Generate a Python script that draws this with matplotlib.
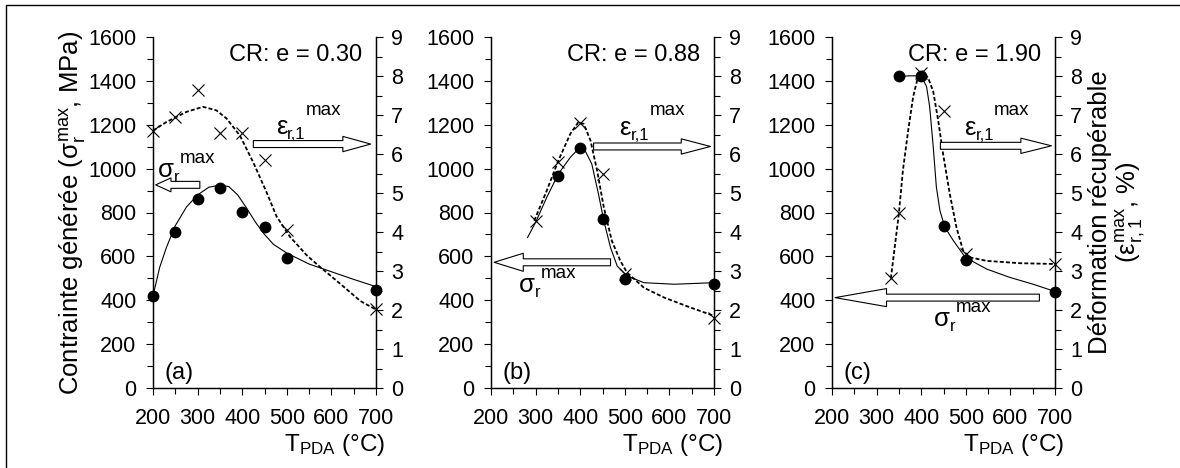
import matplotlib
matplotlib.use("Agg")
import matplotlib.pyplot as plt
from matplotlib.patches import FancyArrowPatch, ArrowStyle, Rectangle
from matplotlib.ticker import MultipleLocator

plt.rcParams["font.family"] = ["Liberation Sans", "DejaVu Sans"]
plt.rcParams["mathtext.fontset"] = "custom"
plt.rcParams["mathtext.rm"] = "Liberation Sans"
plt.rcParams["mathtext.it"] = "Liberation Sans"
plt.rcParams["mathtext.bf"] = "Liberation Sans:bold"

# ---- data (sigma in MPa, left axis; epsilon in %, right axis) ----
panels = ["(a)", "(b)", "(c)"]
cr_labels = ["CR: e = 0.30", "CR: e = 0.88", "CR: e = 1.90"]

# panel (a)
a_sig_T = [200, 250, 300, 350, 400, 450, 500, 700]
a_sig = [420, 710, 862, 912, 802, 733, 593, 445]
a_eps_T = [200, 250, 300, 350, 400, 450, 500, 700]
a_eps = [6.60, 6.95, 7.63, 6.53, 6.53, 5.85, 4.05, 2.02]
a_fit_sig_T = [200, 215, 230, 250, 275, 300, 325, 350, 370, 390, 410, 430, 450, 470, 500, 550, 600, 650, 700]
a_fit_sig = [420, 550, 640, 740, 825, 880, 915, 925, 918, 880, 820, 755, 700, 655, 615, 565, 530, 495, 462]
a_fit_eps_T = [200, 230, 275, 312, 342, 365, 395, 425, 455, 477, 507, 545, 575, 620, 665, 700]
a_fit_eps = [6.60, 6.82, 7.08, 7.21, 7.12, 6.91, 6.47, 5.78, 5.01, 4.40, 3.88, 3.40, 3.10, 2.67, 2.23, 2.01]

# panel (b)
b_sig_T = [350, 400, 450, 500, 700]
b_sig = [968, 1093, 770, 498, 473]
b_eps_T = [300, 350, 400, 450, 500, 700]
b_eps = [4.29, 5.79, 6.79, 5.49, 2.92, 1.80]
b_fit_sig_T = [282, 300, 325, 351, 378, 396, 411, 426, 441, 453, 468, 483, 505, 543, 610, 700]
b_fit_sig = [686, 755, 869, 976, 1052, 1090, 1082, 1021, 884, 762, 640, 556, 511, 480, 473, 480]
b_fit_eps_T = [297, 325, 351, 378, 396, 408, 423, 438, 453, 471, 490, 505, 543, 588, 648, 700]
b_fit_eps = [4.29, 5.06, 5.83, 6.52, 6.82, 6.77, 6.35, 5.57, 4.63, 3.77, 3.26, 2.96, 2.57, 2.32, 2.06, 1.85]

# panel (c)
c_sig_T = [350, 400, 450, 500, 700]
c_sig = [1420, 1420, 737, 583, 438]
c_eps_T = [332, 350, 400, 450, 500, 700]
c_eps = [2.81, 4.48, 8.07, 7.09, 3.44, 3.19]
c_fit_sig_T = [350, 374, 400, 412, 419, 427, 434, 442, 453, 472, 499, 547, 599, 651, 700]
c_fit_sig = [1420, 1423, 1423, 1374, 1282, 1099, 916, 809, 733, 672, 595, 542, 504, 473, 440]
c_fit_eps_T = [332, 350, 359, 371, 382, 393, 404, 416, 427, 438, 449, 464, 479, 494, 509, 547, 621, 700]
c_fit_eps = [2.81, 4.48, 5.58, 6.62, 7.47, 7.99, 8.12, 7.94, 7.60, 6.87, 6.01, 4.98, 4.12, 3.52, 3.35, 3.26, 3.20, 3.18]

sig_pts = [(a_sig_T, a_sig), (b_sig_T, b_sig), (c_sig_T, c_sig)]
eps_pts = [(a_eps_T, a_eps), (b_eps_T, b_eps), (c_eps_T, c_eps)]
sig_fit = [(a_fit_sig_T, a_fit_sig), (b_fit_sig_T, b_fit_sig), (c_fit_sig_T, c_fit_sig)]
eps_fit = [(a_fit_eps_T, a_fit_eps), (b_fit_eps_T, b_fit_eps), (c_fit_eps_T, c_fit_eps)]

# annotation placement (left-axis units): arrow x0, x1, y, head length/width (pt)
eps_arrows = [(425, 688, 1112, 20, 11), (430, 692, 1101, 21, 11), (443, 692, 1104, 22, 11)]
sig_arrows = [(305, 206, 926, 11, 10), (468, 207, 573, 21, 13), (665, 207, 412, 37, 13)]
eps_text = [(475, 1158), (488, 1154), (496, 1154)]
sig_text = [(211, 962), (263, 437), (428, 284)]

lefts = [153, 491, 832]
W, H = 1180, 468


def block_arrow(ax, x0, x1, y, hl, hw):
    style = ArrowStyle.Simple(head_length=hl, head_width=hw, tail_width=5)
    ax.add_patch(FancyArrowPatch((x0, y), (x1, y), arrowstyle=style, mutation_scale=1,
                                 fc="white", ec="black", lw=0.8, shrinkA=0, shrinkB=0,
                                 zorder=5))


def sym_label(ax, x, y, base, sub, sup, sup_up, size=18.5):
    t = ax.text(x, y, base, fontsize=size, ha="left", va="baseline")
    s = ax.annotate(sub, xy=(1, y), xycoords=(t, "data"), xytext=(0, -3.5),
                    textcoords="offset points", fontsize=12, ha="left", va="baseline")
    ax.annotate(sup, xy=(1, y), xycoords=(s, "data"), xytext=(0, sup_up),
                textcoords="offset points", fontsize=13.5, ha="left", va="baseline")


fig = plt.figure(figsize=(W / 100, H / 100), dpi=100)
fig.patches.append(Rectangle((6 / W, -0.2), 1.2, 1.2 - 5 / H, transform=fig.transFigure,
                             fill=False, ec="black", lw=1))

for i in range(3):
    ax = fig.add_axes([lefts[i] / W, (H - 388) / H, 223 / W, 351 / H])
    ax2 = ax.twinx()
    ax.set_zorder(ax2.get_zorder() + 1)
    ax.patch.set_visible(False)

    ax.set_xlim(200, 700)
    ax.set_ylim(0, 1600)
    ax2.set_ylim(0, 9)
    ax.xaxis.set_major_locator(MultipleLocator(100))
    ax.xaxis.set_minor_locator(MultipleLocator(50))
    ax.yaxis.set_major_locator(MultipleLocator(200))
    ax.yaxis.set_minor_locator(MultipleLocator(100))
    ax2.yaxis.set_major_locator(MultipleLocator(1))
    ax2.yaxis.set_minor_locator(MultipleLocator(0.5))
    for a in (ax, ax2):
        a.spines["top"].set_visible(False)
        for sp in a.spines.values():
            sp.set_linewidth(0.9)
    ax.tick_params(axis="both", which="major", direction="out", length=5, width=0.8, labelsize=15.5)
    ax.tick_params(axis="both", which="minor", direction="out", length=4, width=0.8)
    ax.tick_params(axis="x", pad=9.5)
    ax.tick_params(axis="y", pad=7)
    ax2.tick_params(axis="y", which="major", direction="out", length=5, width=0.8, labelsize=15.5, pad=6)
    ax2.tick_params(axis="y", which="minor", direction="out", length=4, width=0.8)

    ax.plot(*sig_fit[i], color="black", lw=0.8)
    ax.plot(*sig_pts[i], "o", color="black", ms=7.5, clip_on=False)
    ax2.plot(*eps_fit[i], color="black", lw=1.3, ls=(0, (2.2, 1.2)))
    ax2.plot(*eps_pts[i], "x", color="black", ms=8, mew=0.8, clip_on=False)

    ax.text(670, 1490, cr_labels[i], fontsize=17, ha="right", va="baseline")
    ax.text(226, 40, panels[i], fontsize=17, ha="left", va="baseline")

    x0, x1, y, hl, hw = eps_arrows[i]
    block_arrow(ax, x0, x1, y, hl, hw)
    x0, x1, y, hl, hw = sig_arrows[i]
    block_arrow(ax, x0, x1, y, hl, hw)
    sym_label(ax, eps_text[i][0], eps_text[i][1], "\u03b5", "r,1", "max", 14)
    sym_label(ax, sig_text[i][0], sig_text[i][1], "\u03c3", "r", "max", 10)

    ax.set_xlabel(r"T$_{\mathrm{PDA}}$ (°C)", fontsize=17.5)
    ax.xaxis.label.set_ha("right")
    ax.xaxis.label.set_va("top")
    ax.xaxis.set_label_coords(1.04, -0.124)

    if i == 0:
        ax.set_ylabel(r"Contrainte générée ($\sigma_{\mathrm{r}}^{\mathrm{max}}$, MPa)", fontsize=18.5)
        ax.yaxis.label.set_va("center")
        ax.yaxis.set_label_coords(-0.363, 0.5)
    if i == 2:
        ax2.set_ylabel("Déformation récupérable\n(\u03b5$_{\\mathrm{r,1}}^{\\mathrm{max}}$, %)",
                       fontsize=18.5, linespacing=1.15)
        ax2.yaxis.label.set_va("center")
        ax2.yaxis.set_label_coords(1.283, 0.5)

fig.savefig("out.png", dpi=100)
